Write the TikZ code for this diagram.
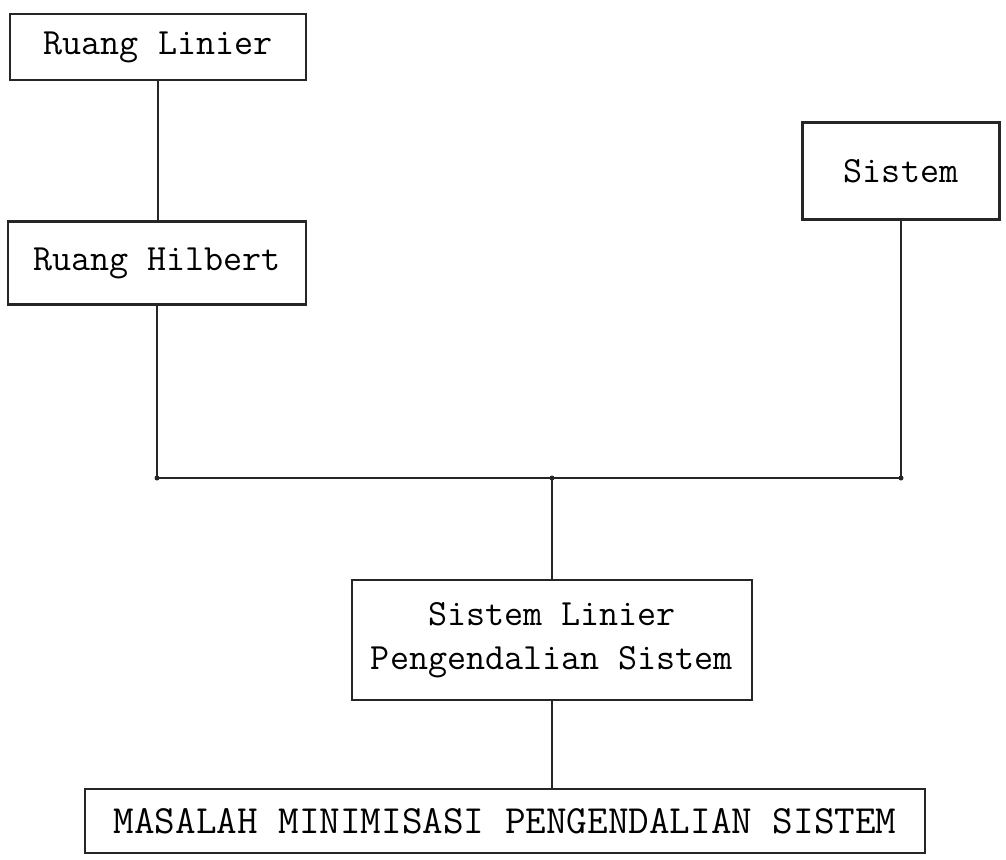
\documentclass[tikz,border=0pt]{standalone}
\begin{document}
\begin{tikzpicture}[x=1pt,y=-1pt,
  box/.style={draw=black!85, line width=2.8pt, inner sep=0pt, font=\fontsize{37}{44}\selectfont\ttfamily, align=center},
  wire/.style={draw=black!85, line width=2.8pt},
  dot/.style={circle, fill=black!85, inner sep=0pt, minimum size=5pt}]
\useasboundingbox (0,0) rectangle (1006,859);
\node[box, minimum width=296pt, minimum height=66pt] (RL) at (158,47) {Ruang Linier};
\node[box, minimum width=298pt, minimum height=83pt] (RH) at (157,263) {Ruang Hilbert};
\node[box, minimum width=197pt, minimum height=97pt] (S) at (901,171) {Sistem};
\node[box, minimum width=400pt, minimum height=120pt] (SL) at (552,640) {Sistem Linier\\Pengendalian Sistem};
\node[box, minimum width=840pt, minimum height=64pt, font=\fontsize{40}{46}\selectfont\ttfamily] (M) at (505,821) {MASALAH MINIMISASI PENGENDALIAN SISTEM};
\coordinate (J) at (552,478);
\draw[wire] (RL.south) -- (RL.south |- RH.north);
\draw[wire] (RH.south) -- (RH.south |- J) -- (S.south |- J) -- (S.south);
\draw[wire] (J) -- (SL.north);
\draw[wire] (SL.south) -- (SL.south |- M.north);
\node[dot] (d1) at (RH.south |- J) {};
\node[dot] (d2) at (J) {};
\node[dot] (d3) at (S.south |- J) {};
\end{tikzpicture}
\end{document}
